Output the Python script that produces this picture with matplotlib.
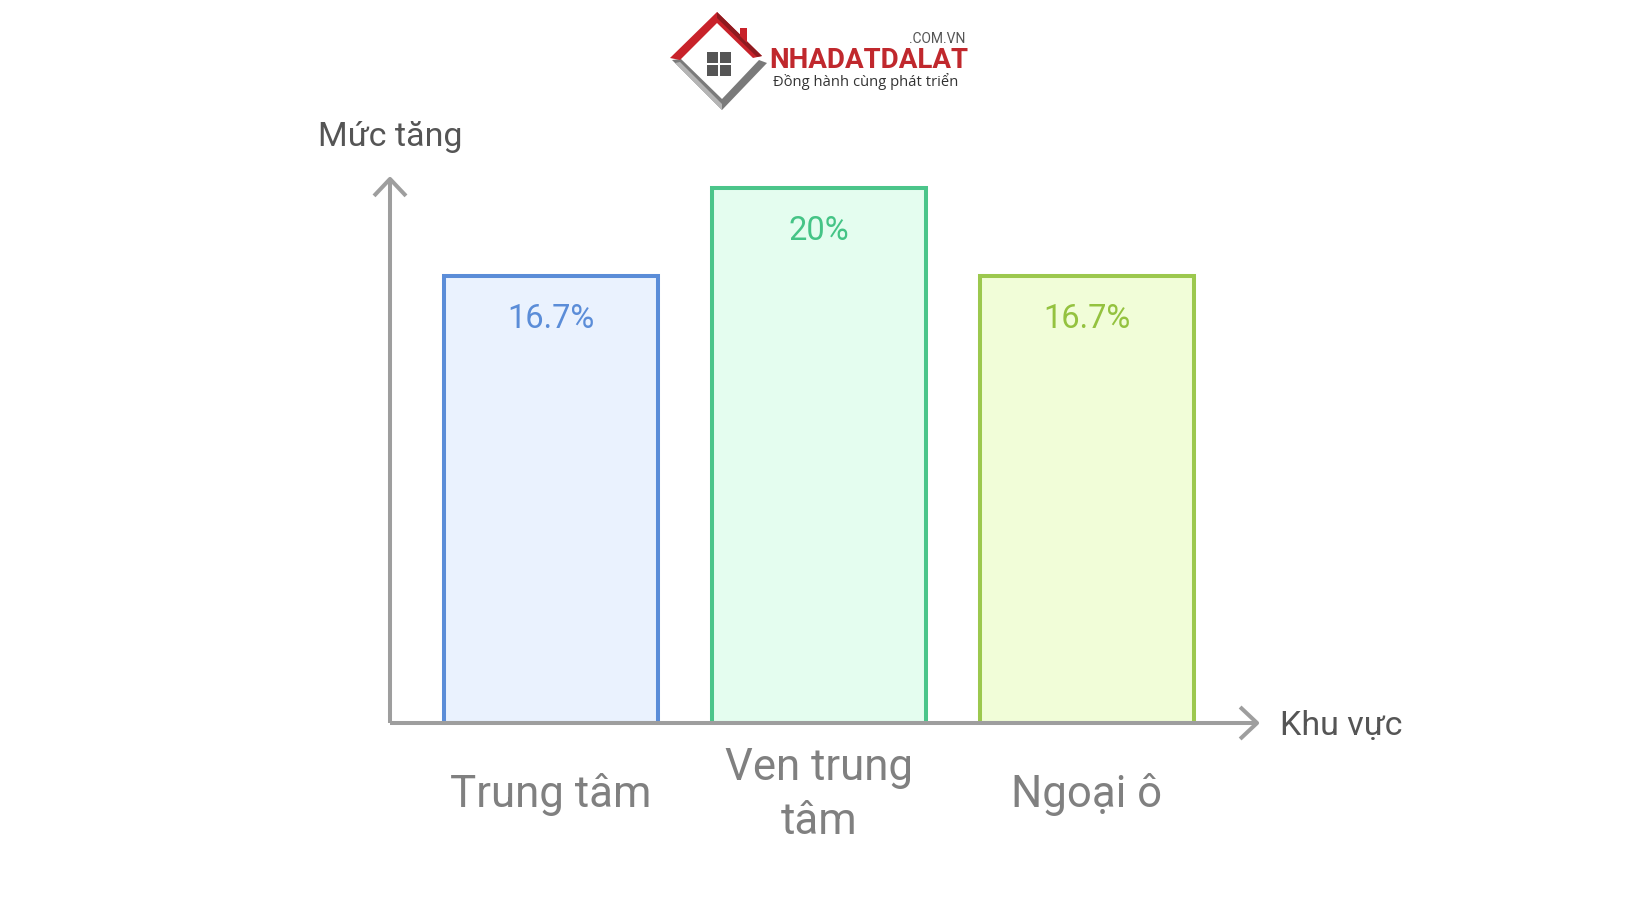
import matplotlib
matplotlib.use("Agg")
import matplotlib.pyplot as plt
from matplotlib.patches import Polygon, Rectangle

plt.rcParams['font.family'] = ['Roboto', 'DejaVu Sans']

# ---- data ----
categories = ["Trung tâm", "Ven trung\ntâm", "Ngoại ô"]
values = [16.7, 20.0, 16.7]
value_labels = ["16.7%", "20%", "16.7%"]
edge_colors = ["#5b8dd8", "#4bc58a", "#9cc84e"]
fill_colors = ["#eaf2fe", "#e4fdef", "#f1fdd8"]
text_colors = ["#5b8dd8", "#45c486", "#94c23f"]
y_title = "Mức tăng"
x_title = "Khu vực"

W, H = 1640, 924
fig = plt.figure(figsize=(W / 100, H / 100), dpi=100)
fig.patch.set_facecolor("white")

# main axes: y=0 at px 723, arrow tip at px 176; x from 390 to 1260
ax = fig.add_axes([390 / W, (H - 723) / H, (1260 - 390) / W, (723 - 176) / H])
ax.set_xlim(-0.6007, 2.6455)
ax.set_ylim(0, 20.45)
ax.axis("off")

x = list(range(len(categories)))
ax.bar(x, values, width=0.8, color=fill_colors, edgecolor=edge_colors,
       linewidth=2.9, zorder=2)

for xi, v, lab, c in zip(x, values, value_labels, text_colors):
    ax.annotate(lab, xy=(xi, v), xycoords="data", xytext=(0, -43),
                textcoords="offset pixels", ha="center", va="center",
                fontsize=23.5, color=c, zorder=4)

for xi, cat in zip(x, categories):
    ax.annotate(cat, xy=(xi, 0), xycoords="data", xytext=(0, -72),
                textcoords="offset pixels", ha="center", va="center",
                fontsize=31.5, color="#808080", linespacing=1.37)

axis_color = "#9e9e9e"
arrow_kw = dict(arrowstyle="->,head_length=1.22,head_width=1.15",
                color=axis_color, lw=2.9, shrinkA=0, shrinkB=0,
                mutation_scale=10, capstyle="butt")
ax.annotate("", xy=(0, 1), xytext=(0, 0), xycoords="axes fraction",
            arrowprops=arrow_kw, zorder=5)
ax.annotate("", xy=(1, 0), xytext=(0, 0), xycoords="axes fraction",
            arrowprops=arrow_kw, zorder=5)

ax.annotate(y_title, xy=(0, 1), xycoords="axes fraction", xytext=(0, 39),
            textcoords="offset pixels", ha="center", va="center",
            fontsize=24.5, color="#555555")
ax.annotate(x_title, xy=(1, 0), xycoords="axes fraction", xytext=(20, -3),
            textcoords="offset pixels", ha="left", va="center",
            fontsize=24.5, color="#555555")

# ---- logo (pixel-space axes) ----
lg = fig.add_axes([660 / W, (H - 120) / H, 340 / W, 120 / H])
lg.set_xlim(660, 1000)
lg.set_ylim(120, 0)
lg.axis("off")

# lower gray V of the diamond
lg.add_patch(Polygon([(672, 60), (722, 110), (767, 63), (759, 60),
                      (722, 99), (681, 59)], closed=True,
                     facecolor="#7a7a7a", edgecolor="none"))
lg.add_patch(Polygon([(675, 63), (722, 110), (722, 104), (680, 62)],
                     closed=True, facecolor="#b5b5b5", edgecolor="none"))
# red roof
lg.add_patch(Polygon([(670, 58), (717, 12), (762, 56), (753, 58),
                      (717, 23), (680, 60)], closed=True,
                     facecolor="#c8222a", edgecolor="none"))
lg.add_patch(Polygon([(717, 12), (762, 56), (757, 57), (717, 18)],
                     closed=True, facecolor="#8e1a1f", edgecolor="none"))
# chimney
lg.add_patch(Polygon([(740, 28), (747, 28), (747, 43), (740, 36)],
                     closed=True, facecolor="#c8222a", edgecolor="none"))
# window
for wx, wy in [(707, 52), (720, 52), (707, 65), (720, 65)]:
    lg.add_patch(Rectangle((wx, wy), 11, 11, facecolor="#555555",
                           edgecolor="none"))

lg.text(965, 39, ".COM.VN", ha="right", va="center", fontsize=10,
        color="#555555")
lg.text(769, 61, "NHADATDALAT", ha="left", va="center", fontsize=20,
        fontweight="bold", color="#c0282d")
lg.text(773, 81, "Đồng hành cùng phát triển", ha="left", va="center",
        fontsize=10.6, color="#333333", family=["Open Sans", "DejaVu Sans"])

fig.savefig("out.png", dpi=100, facecolor="white")
